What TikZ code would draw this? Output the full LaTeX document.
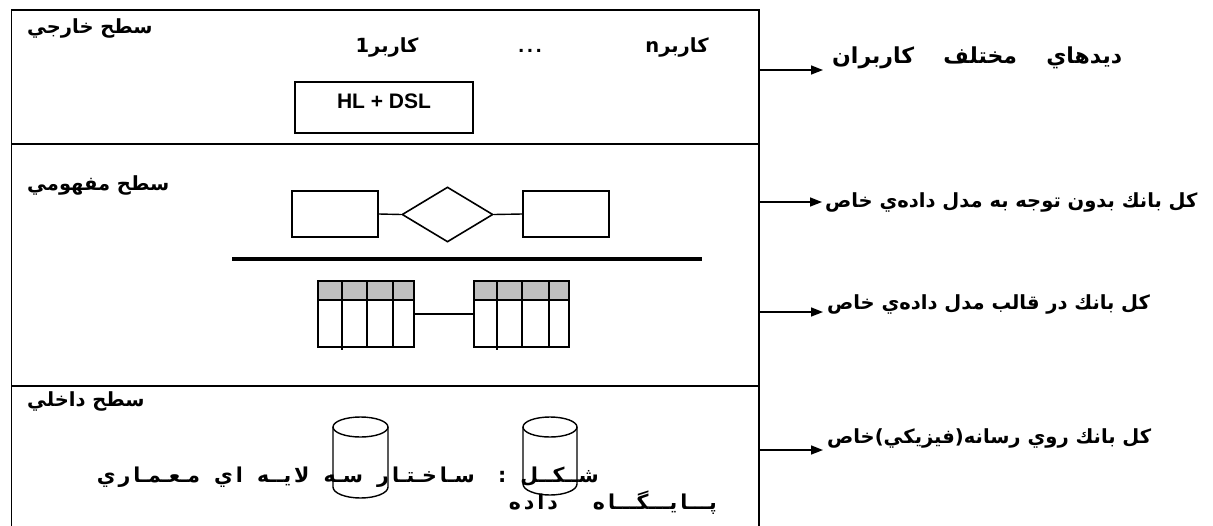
\documentclass[tikz,border=0pt]{standalone}
\usepackage{fontspec}
\setmainfont{Liberation Sans}
\newfontfamily\arfont[Script=Arabic]{DejaVu Sans}
\TeXXeTstate=1
\usetikzlibrary{shapes.geometric,arrows.meta}
\newcommand{\kg}{\hspace{3pt}}

\begin{document}
\begin{tikzpicture}[x=1pt,y=-1pt,
  frameline/.style={line width=1.6pt},
  arlbl/.style={font=\arfont\bfseries\fontsize{19.5}{23}\selectfont, inner sep=0pt, anchor=base west},
  latlbl/.style={font=\bfseries\fontsize{21}{25}\selectfont, inner sep=0pt},
  box/.style={draw, line width=1.6pt, inner sep=0pt},
  relshape/.style={draw, diamond, line width=1.6pt, inner sep=0pt, minimum width=91pt, minimum height=55pt},
  tbl/.style={draw, line width=1.6pt, inner sep=0pt, minimum width=96pt, minimum height=66pt},
  tline/.style={line width=1.6pt},
  hdr/.style={fill=black!25},
  conn/.style={line width=1.4pt},
  arr/.style={line width=1.6pt, -{Triangle[length=12pt,width=9pt]}},
  cyl/.style={line width=1.4pt},
  caption/.style={font=\arfont\bfseries\fontsize{20.5}{25}\selectfont, inner sep=0pt, anchor=base east}
]
\useasboundingbox (0,0) rectangle (1213,525);

% outer frame and the three layers
\draw[frameline] (11.5,540) -- (11.5,10) -- (759,10) -- (759,540);
\draw[frameline] (11.5,144) -- (759,144);
\draw[frameline] (11.5,386) -- (759,386);

% layer titles
\node[arlbl] (ext) at (27,33) {\beginR سطح خارجي\endR};
\node[arlbl] (con) at (27,190) {\beginR سطح مفهومي\endR};
\node[arlbl] (int) at (27,406) {\beginR سطح داخلي\endR};

% external layer: users and the language box
\node[arlbl, anchor=base] (u1) at (387,52) {\beginR كاربر1\endR};
\node[latlbl, anchor=base] (dots) at (530,52) {.\kern3pt.\kern3pt.};
\node[arlbl, anchor=base] (un) at (677,52) {\beginR كاربرn\endR};
\node[box, minimum width=178pt, minimum height=51pt] (dsl) at (384,107.5) {};
\node[latlbl, anchor=base] (dsltxt) at (384,108) {HL + DSL};

% conceptual layer: entity-relationship sketch
\node[box, minimum width=86pt, minimum height=46pt] (e1) at (335,214) {};
\node[relshape] (rel) at (447.5,214.5) {};
\node[box, minimum width=86pt, minimum height=46pt] (e2) at (566,214) {};
\draw[conn] (e1.east) -- (rel.west);
\draw[conn] (rel.east) -- (e2.west);

\draw[line width=3.3pt] (232,259) -- (702,259);

% conceptual layer: two related tables
\fill[hdr] (318,281) rectangle (414,300);
\node[tbl] (t1) at (366,314) {};
\draw[tline] (318,300) -- (414,300);
\foreach \c in {367,393} \draw[tline] (\c,281) -- (\c,347);
\draw[tline] (342,281) -- (342,350);

\fill[hdr] (474,281) rectangle (569,300);
\node[tbl, minimum width=95pt] (t2) at (521.5,314) {};
\draw[tline] (474,300) -- (569,300);
\foreach \c in {522,549} \draw[tline] (\c,281) -- (\c,347);
\draw[tline] (497,281) -- (497,350);

\draw[conn] (t1.east) -- (t2.west);

% internal layer: caption and storage cylinders
\node[caption] (cap1) at (599,482) {\makebox[502pt][s]{\beginR شــكــل : سـا\kg خـتـا\kg ر سـه لا\kg يــه ا\kg ي مـعـمـا\kg ر\kg ي\endR}};
\node[caption] (cap2) at (717,509) {\makebox[208pt][s]{\beginR پـــا\kg يـــگـــا\kg ه د\kg ا\kg د\kg ه\endR}};

\draw[cyl] (333,427) -- (333,487) arc[start angle=180, end angle=360, x radius=27.5pt, y radius=11pt] -- (388,427);
\draw[cyl] (360.5,427) ellipse[x radius=27.5pt, y radius=10pt];
\draw[cyl] (523,427) -- (523,484) arc[start angle=180, end angle=360, x radius=27pt, y radius=11pt] -- (577,427);
\draw[cyl] (550,427) ellipse[x radius=27pt, y radius=10pt];

% level descriptions on the right
\coordinate (o1) at (759,70);  \coordinate (p1) at (823,70);
\coordinate (o2) at (759,202); \coordinate (p2) at (822,202);
\coordinate (o3) at (759,312); \coordinate (p3) at (823,312);
\coordinate (o4) at (759,450); \coordinate (p4) at (823,450);
\draw[arr] (o1) -- (p1);
\draw[arr] (o2) -- (p2);
\draw[arr] (o3) -- (p3);
\draw[arr] (o4) -- (p4);
\node[arlbl, font=\arfont\bfseries\fontsize{22}{26}\selectfont] (d1) at (832,63) {\makebox[290pt][s]{\beginR ديدهاي مختلف كاربران\endR}};
\node[arlbl] (d2) at (825,207) {\beginR كل بانك بدون توجه به مدل داده‌ي خاص\endR};
\node[arlbl] (d3) at (827,309) {\beginR كل بانك در قالب مدل داده‌ي خاص\endR};
\node[arlbl] (d4) at (827,443) {\beginR كل بانك روي رسانه(فيزيكي)خاص\endR};
\end{tikzpicture}
\end{document}
